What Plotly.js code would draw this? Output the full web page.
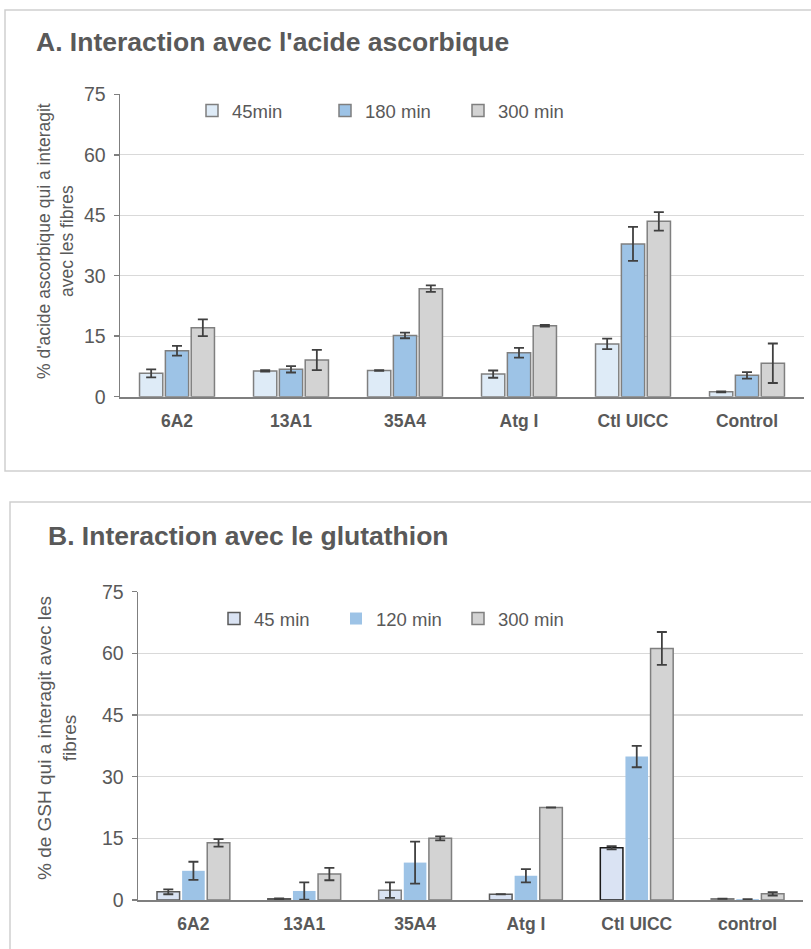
<!DOCTYPE html>
<html>
<head>
<meta charset="utf-8">
<script src="https://cdn.plot.ly/plotly-3.0.1.min.js"></script>
<style>html,body{margin:0;padding:0;background:#fff;}#chart{width:811px;height:949px;}</style>
</head>
<body>
<div id="chart"></div>
<script>
// ---- Data ----
var categoriesA = ['6A2', '13A1', '35A4', 'Atg I', 'Ctl UICC', 'Control'];
var categoriesB = ['6A2', '13A1', '35A4', 'Atg I', 'Ctl UICC', 'control'];

var seriesNamesA = ['45min', '180 min', '300 min'];
var seriesNamesB = ['45 min', '120 min', '300 min'];

var a45 = [5.8, 6.4, 6.5, 5.6, 13.1, 1.2];
var a45Err = [1.0, 0.2, 0.1, 0.9, 1.3, 0.1];
var a180 = [11.4, 6.8, 15.2, 10.9, 37.9, 5.3];
var a180Err = [1.2, 0.8, 0.7, 1.2, 4.2, 0.8];
var a300 = [17.1, 9.1, 26.8, 17.6, 43.5, 8.3];
var a300Err = [2.1, 2.5, 0.8, 0.2, 2.3, 4.9];

var b45 = [2.0, 0.3, 2.4, 1.4, 12.7, 0.3];
var b45Err = [0.6, 0.1, 1.9, 0, 0.4, 0];
var b120 = [7.1, 2.2, 9.1, 5.9, 34.9, 0.2];
var b120Err = [2.2, 2.1, 5.1, 1.6, 2.6, 0];
var b300 = [13.9, 6.3, 15.0, 22.5, 61.2, 1.5];
var b300Err = [0.9, 1.5, 0.5, 0, 4.0, 0.4];

var yTicks = [0, 15, 30, 45, 60, 75];

// ---- Styles ----
var FONT = 'Liberation Sans, Arial, sans-serif';
var TXT = '#595959';
var C45 = '#DEEBF7', C180 = '#9DC3E6', C300 = '#D3D3D3';
var EDGE = '#7F7F7F';
var ERR = '#404040';

function err(arr) {
  return {type: 'data', array: arr, visible: true, color: ERR, thickness: 1.8, width: 5};
}

var traces = [
  {type: 'bar', name: seriesNamesA[0], x: categoriesA, y: a45, error_y: err(a45Err),
   marker: {color: C45, line: {color: EDGE, width: 1.5}}, xaxis: 'x', yaxis: 'y', legend: 'legend'},
  {type: 'bar', name: seriesNamesA[1], x: categoriesA, y: a180, error_y: err(a180Err),
   marker: {color: C180, line: {color: EDGE, width: 1.5}}, xaxis: 'x', yaxis: 'y', legend: 'legend'},
  {type: 'bar', name: seriesNamesA[2], x: categoriesA, y: a300, error_y: err(a300Err),
   marker: {color: C300, line: {color: EDGE, width: 1.5}}, xaxis: 'x', yaxis: 'y', legend: 'legend'},

  {type: 'bar', name: seriesNamesB[0], x: categoriesB, y: b45, error_y: err(b45Err),
   marker: {color: '#DAE3F3', line: {color: ['#595959', '#595959', '#7F7F7F', '#595959', '#1A1A1A', '#7F7F7F'], width: 1.5}},
   xaxis: 'x2', yaxis: 'y2', legend: 'legend2'},
  {type: 'bar', name: seriesNamesB[1], x: categoriesB, y: b120, error_y: err(b120Err),
   marker: {color: C180, line: {width: 0}}, xaxis: 'x2', yaxis: 'y2', legend: 'legend2'},
  {type: 'bar', name: seriesNamesB[2], x: categoriesB, y: b300, error_y: err(b300Err),
   marker: {color: C300, line: {color: EDGE, width: 1.5}}, xaxis: 'x2', yaxis: 'y2', legend: 'legend2'}
];

var W = 811, H = 949;
function px(x) { return x / W; }
function py(y) { return 1 - y / H; }

function yax(domain, anchor) {
  return {
    domain: domain, anchor: anchor, range: [0, 75], tickvals: yTicks, ticktext: yTicks.map(String),
    showgrid: true, gridcolor: '#D9D9D9', gridwidth: 1.3,
    showline: true, linecolor: '#7F7F7F', linewidth: 1.5,
    ticks: 'outside', ticklen: 5, tickcolor: '#7F7F7F', tickwidth: 1.5,
    tickfont: {family: FONT, size: 19.5, color: TXT}, ticklabelstandoff: 4,
    zeroline: false, fixedrange: true
  };
}
function xax(domain, anchor) {
  return {
    domain: domain, anchor: anchor, type: 'category',
    showline: true, linecolor: '#7F7F7F', linewidth: 2, ticks: '',
    tickfont: {family: FONT, size: 17.5, color: TXT, weight: 'bold'}, ticklabelstandoff: 7,
    showgrid: false, zeroline: false, fixedrange: true
  };
}

var layout = {
  width: W, height: H,
  margin: {l: 0, r: 0, t: 0, b: 0},
  paper_bgcolor: '#fff', plot_bgcolor: 'rgba(0,0,0,0)',
  barmode: 'group', bargap: 0.32, bargroupgap: 0.1,
  font: {family: FONT, color: TXT},
  xaxis: xax([px(120), px(804)], 'y'),
  yaxis: yax([py(396.7), py(94.3)], 'x'),
  xaxis2: xax([px(138), px(803)], 'y2'),
  yaxis2: yax([py(900), py(591.7)], 'x2'),
  legend: {orientation: 'h', x: px(192), xanchor: 'left', y: py(111), yanchor: 'middle',
           font: {family: FONT, size: 18.5, color: TXT}, bgcolor: 'rgba(0,0,0,0)',
           entrywidth: 88, entrywidthmode: 'pixels', itemwidth: 30, traceorder: 'normal'},
  legend2: {orientation: 'h', x: px(214), xanchor: 'left', y: py(619), yanchor: 'middle',
           font: {family: FONT, size: 18.5, color: TXT}, bgcolor: 'rgba(0,0,0,0)',
           entrywidth: 77, entrywidthmode: 'pixels', itemwidth: 30, traceorder: 'normal'},
  shapes: [
    {type: 'rect', xref: 'paper', yref: 'paper', x0: px(5), x1: 1.01, y0: py(471), y1: py(10),
     line: {color: '#CFCFCF', width: 1.5}, fillcolor: 'rgba(0,0,0,0)', layer: 'below'},
    {type: 'rect', xref: 'paper', yref: 'paper', x0: px(10), x1: 1.01, y0: -0.02, y1: py(502),
     line: {color: '#CFCFCF', width: 1.5}, fillcolor: 'rgba(0,0,0,0)', layer: 'below'}
  ],
  annotations: [
    {text: "A. Interaction avec l'acide ascorbique", xref: 'paper', yref: 'paper',
     x: px(34), y: py(42), xanchor: 'left', yanchor: 'middle', showarrow: false,
     font: {family: FONT, size: 26.5, color: TXT, weight: 'bold'}},
    {text: 'B. Interaction avec le glutathion', xref: 'paper', yref: 'paper',
     x: px(46), y: py(536), xanchor: 'left', yanchor: 'middle', showarrow: false,
     font: {family: FONT, size: 26.5, color: TXT, weight: 'bold'}},
    {text: "% d'acide ascorbique qui a interagit<br>avec les fibres", xref: 'paper', yref: 'paper',
     x: px(55), y: py(241), xanchor: 'center', yanchor: 'middle', textangle: -90, showarrow: false,
     font: {family: FONT, size: 17.5, color: TXT}},
    {text: '% de GSH qui a interagit avec les<br>fibres', xref: 'paper', yref: 'paper',
     x: px(57), y: py(738), xanchor: 'center', yanchor: 'middle', textangle: -90, showarrow: false,
     font: {family: FONT, size: 19, color: TXT}}
  ]
};

Plotly.newPlot('chart', traces, layout, {displayModeBar: false, staticPlot: true});
</script>
</body>
</html>
